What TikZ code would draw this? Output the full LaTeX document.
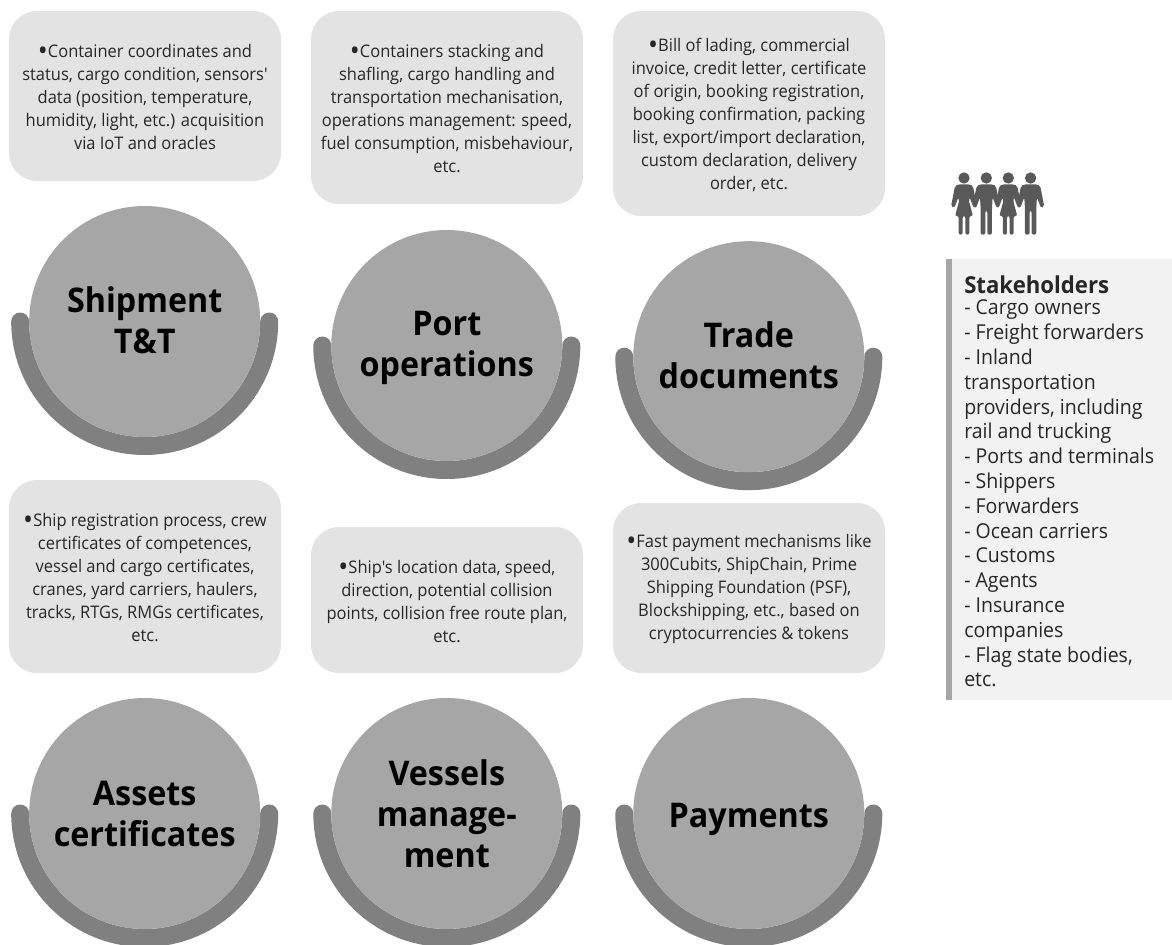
\documentclass[tikz,border=0pt]{standalone}
\usepackage{fontspec}
\setmainfont[FakeStretch=0.95,Ligatures=TeXOff]{Open Sans}
\definecolor{boxgray}{HTML}{E3E3E3}
\definecolor{discgray}{HTML}{A6A6A6}
\definecolor{ringgray}{HTML}{808080}
\definecolor{panelgray}{HTML}{F2F2F2}
\definecolor{bargray}{HTML}{A6A6A6}
\definecolor{icongray}{HTML}{595959}
\definecolor{bodytext}{HTML}{262626}
\newcommand{\bul}{\rule{0pt}{12pt}\raisebox{-2.2pt}{\fontsize{21}{17}\selectfont •}}
\tikzset{
  infobox/.style={draw=none,fill=boxgray,rounded corners=21pt,minimum width=204pt,inner sep=0pt,align=center,text=bodytext,font=\fontsize{13}{17.25}\selectfont},
  disc/.style={circle,fill=discgray,minimum size=173.25pt,inner sep=0pt},
  disclabel/.style={inner sep=0pt,align=center,text=black,font=\fontsize{25.5}{30.75}\selectfont\bfseries},
  ring/.style={draw=ringgray,line width=13.5pt,line cap=round},
  panel/.style={fill=panelgray,draw=none,minimum width=169.5pt,minimum height=330.75pt,inner sep=0pt,anchor=north west},
  bar/.style={fill=bargray,draw=none,minimum width=4.5pt,minimum height=330.75pt,inner sep=0pt,anchor=north west},
  paneltext/.style={anchor=north west,inner sep=0pt,align=left,text=bodytext,font=\fontsize{15.4}{18.6}\selectfont},
  figure/.style={fill=icongray,draw=none}
}
\newcommand{\InfoCard}[5]{% name, x, top, bottom, text
  \node[infobox,minimum height={(#4-#3)*0.75pt}] (#1) at (#2,{(#3+#4)/2}) {#5};}
\newcommand{\Topic}[5]{% name, x, y, label offset, text
  \draw[ring] ({#2-124.5},#3) arc (180:0:124.5);
  \node[disc] (#1) at (#2,#3) {};
  \node[disclabel] (#1label) at (#2,{#3+#4}) {#5};}
\newcommand{\Woman}[2]{%
  \begin{scope}[shift={(#1,#2)},x=0.25pt,y=-0.25pt]
    \fill[figure] (0,0) circle[radius=17];
    \fill[figure,rounded corners=1.5pt] (-18,19) -- (18,19) -- (27,24) -- (39,86) -- (29,90) -- (17,58) -- (14,66) -- (27,114) -- (16,114) -- (16,170) -- (4,170) -- (4,114) -- (-4,114) -- (-4,170) -- (-16,170) -- (-16,114) -- (-27,114) -- (-14,66) -- (-17,58) -- (-29,90) -- (-39,86) -- (-27,24) -- cycle;
  \end{scope}}
\newcommand{\Man}[2]{%
  \begin{scope}[shift={(#1,#2)},x=0.25pt,y=-0.25pt]
    \fill[figure] (0,0) circle[radius=17];
    \fill[figure,rounded corners=1.5pt] (-20,19) -- (20,19) -- (29,24) -- (41,86) -- (31,90) -- (19,58) -- (17,90) -- (17,170) -- (3,170) -- (3,98) -- (-3,98) -- (-3,170) -- (-17,170) -- (-17,90) -- (-19,58) -- (-31,90) -- (-41,86) -- (-29,24) -- cycle;
  \end{scope}}
\begin{document}
\begin{tikzpicture}[x=0.75pt,y=-0.75pt]
\useasboundingbox (0,0) rectangle (1172,945);
\clip (0,0) rectangle (1172,945);
\InfoCard{cardA}{145}{11}{181}{\bul Container coordinates and\\status, cargo condition, sensors'\\data (position, temperature,\\humidity, light, etc.) acquisition\\via IoT and oracles}
\InfoCard{cardB}{447}{11}{204}{\bul Containers stacking and\\shafling, cargo handling and\\transportation mechanisation,\\operations management: speed,\\fuel consumption, misbehaviour,\\etc.}
\InfoCard{cardC}{749}{11}{216}{\bul Bill of lading, commercial\\invoice, credit letter, certificate\\of origin, booking registration,\\booking confirmation, packing\\list, export/import declaration,\\custom declaration, delivery\\order, etc.}
\InfoCard{cardD}{145}{480}{673}{\bul Ship registration process, crew\\certificates of competences,\\vessel and cargo certificates,\\cranes, yard carriers, haulers,\\tracks, RTGs, RMGs certificates,\\etc.}
\InfoCard{cardE}{447}{527}{673}{\bul Ship's location data, speed,\\direction, potential collision\\points, collision free route plan,\\etc.}
\InfoCard{cardF}{749}{503}{673}{\bul Fast payment mechanisms like\\300Cubits, ShipChain, Prime\\Shipping Foundation (PSF),\\Blockshipping, etc., based on\\cryptocurrencies \& tokens}
\Topic{topicA}{144.7}{321.5}{-1}{Shipment\\T\&T}
\Topic{topicB}{446.8}{345.5}{2}{Port\\operations}
\Topic{topicC}{748.8}{356.7}{-1}{Trade\\documents}
\Topic{topicD}{144.7}{813.5}{0.5}{Assets\\certificates}
\Topic{topicE}{446.8}{813.5}{0}{Vessels\\manage-\\ment}
\Topic{topicF}{748.8}{813.5}{6}{Payments}
\Woman{964}{178}
\Man{986.3}{178}
\Woman{1008.3}{178}
\Man{1030.6}{178}
\node[panel] (panel) at (946,259) {};
\node[bar] (panelbar) at (946,259) {};
\node[paneltext] (stake) at (964,275) {\raisebox{-2.2pt}{\fontsize{17.5}{18.6}\selectfont\bfseries Stakeholders}\\- Cargo owners\\- Freight forwarders\\- Inland\\transportation\\providers, including\\rail and trucking\\- Ports and terminals\\- Shippers\\- Forwarders\\- Ocean carriers\\- Customs\\- Agents\\- Insurance\\companies\\- Flag state bodies,\\etc.};
\end{tikzpicture}
\end{document}
